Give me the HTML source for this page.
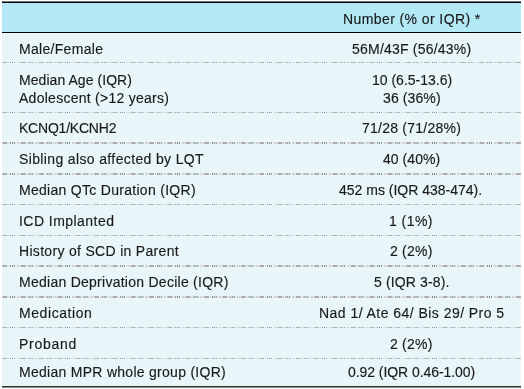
<!DOCTYPE html>
<html><head><meta charset="utf-8">
<style>
html,body{margin:0;padding:0;background:#fff;width:524px;height:389px;overflow:hidden}
body{position:relative;font-family:"Liberation Sans",sans-serif;font-size:14px;color:#1a1a1a;-webkit-text-stroke:0.15px #1a1a1a}
.hdr{position:absolute;left:2px;top:3px;width:519px;height:29px;background:#b3e8f5}
.tb{position:absolute;left:2px;top:1px;width:519px;height:2px;background:linear-gradient(#777 0 1px,#000 1px 2px)}
.hb{position:absolute;left:2px;top:32px;width:519px;height:1px;background:#000}
.body{position:absolute;left:2px;top:33px;width:519px;height:353px;background:#e8f6fa}
.bb{position:absolute;left:2px;top:386px;width:519px;height:2px;background:linear-gradient(#333 0 1px,#888 1px 2px)}
.sep{position:absolute;left:2px;width:519px;height:1px;background:repeating-linear-gradient(90deg,#8a8a8a 0px 1px,transparent 1px 2px,#8a8a8a 2px 3px,transparent 3px 4px,#8a8a8a 4px 5px,transparent 5px 6.5px,#d5d5d5 6.5px 7.5px,transparent 7.5px 8.2px,#d5d5d5 8.2px 9.2px,transparent 9.2px 10.3px,#b0b0b0 10.3px 15px,transparent 15px 16.2px,#d5d5d5 16.2px 17.2px,transparent 17.2px 18.35px) 8.15px 0/18.35px 100% repeat-x}
.sep.d2{height:2px;background:repeating-linear-gradient(90deg,#858585 0px 1px,transparent 1px 2px,#858585 2px 3px,transparent 3px 4px,#858585 4px 5px,transparent 5px 6.5px,#d3d3d3 6.5px 7.5px,transparent 7.5px 8.2px,#d3d3d3 8.2px 9.2px,transparent 9.2px 10.3px,#acacac 10.3px 15px,transparent 15px 16.2px,#d3d3d3 16.2px 17.2px,transparent 17.2px 18.35px) 8.15px 0/18.35px 100% repeat-x}
.r3{position:absolute;left:2px;width:519px;height:1px}
.t{position:absolute;will-change:transform;white-space:pre;line-height:14px;height:14px}
</style></head><body>
<div class="tb"></div>
<div class="hdr"></div>
<div class="hb"></div>
<div class="body"></div>
<div class="bb"></div>
<div class="sep " style="top:62px"></div>
<div class="sep " style="top:112px"></div>
<div class="sep d2" style="top:142px"></div>
<div class="sep d2" style="top:173px"></div>
<div class="sep " style="top:204px"></div>
<div class="sep " style="top:235px"></div>
<div class="sep d2" style="top:265px"></div>
<div class="sep d2" style="top:296px"></div>
<div class="sep " style="top:327px"></div>
<div class="sep " style="top:358px"></div>

<div class="t" style="top:12px;left:343.00px;letter-spacing:0.409px">Number (% or IQR) *</div>
<div class="t" style="top:42px;left:19.00px;letter-spacing:0.305px">Male/Female</div>
<div class="t" style="top:42px;left:352.00px;letter-spacing:0.216px">56M/43F (56/43%)</div>
<div class="t" style="top:73px;left:19.00px;letter-spacing:0.060px">Median Age (IQR)</div>
<div class="t" style="top:73px;left:372.00px;letter-spacing:-0.003px">10 (6.5-13.6)</div>
<div class="t" style="top:91px;left:19.00px;letter-spacing:0.264px">Adolescent (&gt;12 years)</div>
<div class="t" style="top:91px;left:383.00px;letter-spacing:0.112px">36 (36%)</div>
<div class="t" style="top:121px;left:19.00px;letter-spacing:-0.213px">KCNQ1/KCNH2</div>
<div class="t" style="top:121px;left:362.00px;letter-spacing:0.239px">71/28 (71/28%)</div>
<div class="t" style="top:152px;left:19.00px;letter-spacing:0.364px">Sibling also affected by LQT</div>
<div class="t" style="top:152px;left:383.00px;letter-spacing:0.045px">40 (40%)</div>
<div class="t" style="top:183px;left:19.00px;letter-spacing:0.290px">Median QTc Duration (IQR)</div>
<div class="t" style="top:183px;left:339.00px;letter-spacing:-0.000px">452 ms (IQR 438-474).</div>
<div class="t" style="top:214px;left:19.00px;letter-spacing:0.457px">ICD Implanted</div>
<div class="t" style="top:214px;left:389.00px;letter-spacing:0.447px">1 (1%)</div>
<div class="t" style="top:244px;left:19.00px;letter-spacing:0.311px">History of SCD in Parent</div>
<div class="t" style="top:244px;left:390.00px;letter-spacing:0.224px">2 (2%)</div>
<div class="t" style="top:275px;left:19.00px;letter-spacing:0.262px">Median Deprivation Decile (IQR)</div>
<div class="t" style="top:275px;left:374.00px;letter-spacing:0.137px">5 (IQR 3-8).</div>
<div class="t" style="top:306px;left:19.00px;letter-spacing:0.573px">Medication</div>
<div class="t" style="top:306px;left:319.00px;letter-spacing:0.457px">Nad 1/ Ate 64/ Bis 29/ Pro 5</div>
<div class="t" style="top:337px;left:19.00px;letter-spacing:0.733px">Proband</div>
<div class="t" style="top:337px;left:390.00px;letter-spacing:0.224px">2 (2%)</div>
<div class="t" style="top:365px;left:19.00px;letter-spacing:0.280px">Median MPR whole group (IQR)</div>
<div class="t" style="top:365px;left:348.00px;letter-spacing:-0.066px">0.92 (IQR 0.46-1.00)</div>
</body></html>
